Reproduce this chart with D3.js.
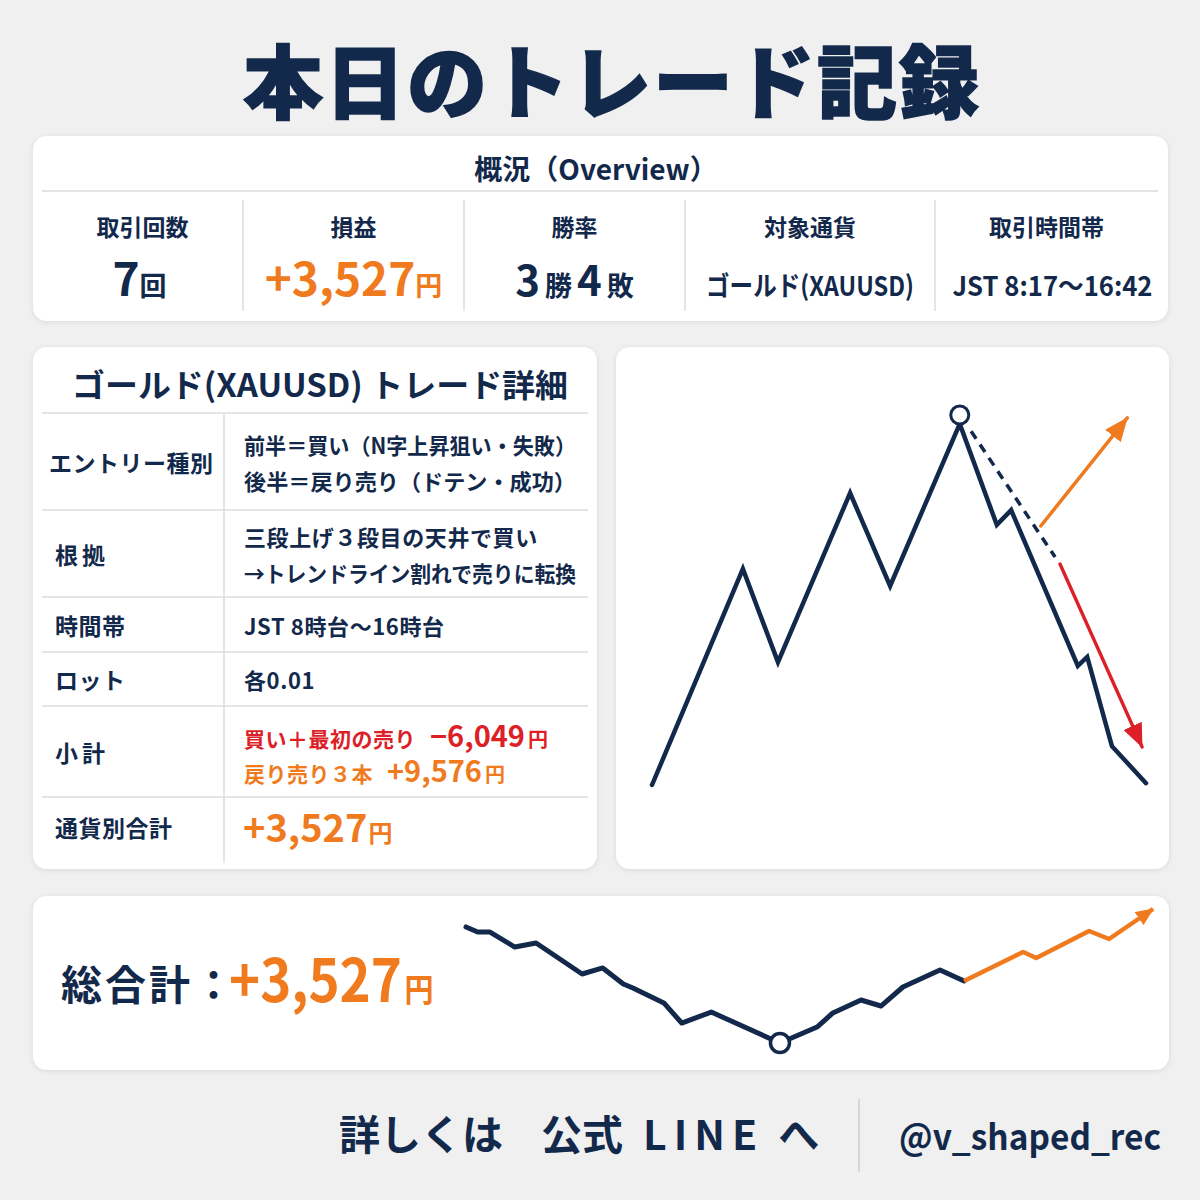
<!DOCTYPE html>
<html>
<head>
<meta charset="utf-8">
<script src="https://cdn.jsdelivr.net/npm/d3@7"></script>
<style>
  body { margin: 0; background: #f0f0f1; }
  svg { display: block; font-family: "Noto Sans CJK JP", "Noto Sans", sans-serif; }
</style>
</head>
<body>
<div id="chart"></div>
<script>
// ---- data ----
var titleText = "本日のトレード記録";
var overviewTitle = "概況（Overview）";
var overviewLabels = ["取引回数", "損益", "勝率", "対象通貨", "取引時間帯"];
// each value: [text, kind] kind = num | unit | plain
var overviewValues = [
  [["7", "num"], ["回", "unit"]],
  [["+3,527", "num"], ["円", "unit"]],
  [["3", "num"], ["勝", "unit"], ["4", "num"], ["敗", "unit"]],
  [["ゴールド(XAUUSD)", "plain"]],
  [["JST 8:17〜16:42", "plain"]]
];
var profitIndex = 1;

var detailTitle = "ゴールド(XAUUSD) トレード詳細";
var detailLabels = ["エントリー種別", "根拠", "時間帯", "ロット", "小計", "通貨別合計"];
var detailValues = [
  ["前半＝買い（N字上昇狙い・失敗）", "後半＝戻り売り（ドテン・成功）"],
  ["三段上げ３段目の天井で買い", "→トレンドライン割れで売りに転換"],
  ["JST 8時台〜16時台"],
  ["各0.01"]
];
var subtotalLines = [
  { label: "買い＋最初の売り", amount: "−6,049", type: "loss" },
  { label: "戻り売り３本", amount: "+9,576", type: "gain" }
];
var currencyTotal = "+3,527";
var grandLabel = "総合計：";
var grandTotal = "+3,527";
var yenUnit = "円";

// right chart: price path (x 0-100, y 0-100)
var pricePath = [
  { x: 0, y: 0 }, { x: 18.4, y: 58.4 }, { x: 25.5, y: 33.2 }, { x: 40.1, y: 78.9 },
  { x: 48.2, y: 53.8 }, { x: 62.3, y: 97.6 }, { x: 69.8, y: 70.3 }, { x: 72.7, y: 74.3 },
  { x: 86.2, y: 32.2 }, { x: 88.1, y: 34.6 }, { x: 93.1, y: 10.5 }, { x: 100, y: 0.5 }
];
var peakMarker = { x: 62.3, y: 100 };
var trendLine = [{ x: 64.6, y: 95.6 }, { x: 81.6, y: 61.6 }];
var sellArrow = [{ x: 82.6, y: 59.7 }, { x: 99.2, y: 10.3 }];
var buyArrow = [{ x: 78.7, y: 70 }, { x: 96.2, y: 99.2 }];

// bottom chart: equity curve (x 0-100, y 0-100)
var equityDown = [
  { x: 0, y: 86.6 }, { x: 1.7, y: 82.8 }, { x: 3.5, y: 82.8 }, { x: 7.1, y: 71.6 },
  { x: 10.2, y: 74.6 }, { x: 16.9, y: 51.5 }, { x: 19.9, y: 56.0 }, { x: 22.9, y: 44.0 },
  { x: 24.3, y: 41.0 }, { x: 28.8, y: 29.9 }, { x: 31.4, y: 14.9 }, { x: 35.7, y: 23.1 },
  { x: 45.7, y: 0 }, { x: 51.1, y: 11.9 }, { x: 53.4, y: 22.4 }, { x: 57.5, y: 32.1 },
  { x: 60.4, y: 27.6 }, { x: 63.6, y: 41.8 }, { x: 69.0, y: 54.5 }, { x: 72.5, y: 46.3 }
];
var equityUp = [
  { x: 72.5, y: 46.3 }, { x: 81.1, y: 67.9 }, { x: 83.0, y: 63.4 }, { x: 90.7, y: 83.6 },
  { x: 93.6, y: 77.6 }, { x: 100, y: 100 }
];
var equityLow = { x: 45.7, y: 0 };

var footerLeft = ["詳しくは", "公式", "LINE", "へ"];
var footerHandle = "@v_shaped_rec";

// ---- style ----
var navy = "#13294b";
var orange = "#f07a1e";
var red = "#dd1f27";
var rule = "#dcdcdf";

var svg = d3.select("#chart").append("svg")
  .attr("width", 1200)
  .attr("height", 1200);

var defs = svg.append("defs");
var shadow = defs.append("filter").attr("id", "shadow")
  .attr("x", "-5%").attr("y", "-5%").attr("width", "110%").attr("height", "115%");
shadow.append("feDropShadow")
  .attr("dx", 0).attr("dy", 1).attr("stdDeviation", 2.5)
  .attr("flood-color", "#000").attr("flood-opacity", 0.1);

function marker(id, color, len, wid) {
  defs.append("marker")
    .attr("id", id)
    .attr("viewBox", `0 0 ${len} ${wid}`)
    .attr("refX", len - 1).attr("refY", wid / 2)
    .attr("markerWidth", len).attr("markerHeight", wid)
    .attr("markerUnits", "userSpaceOnUse")
    .attr("orient", "auto")
    .append("path")
    .attr("d", `M0,0 L${len},${wid / 2} L0,${wid} Z`)
    .attr("fill", color);
}
marker("headOrange", orange, 24, 20);
marker("headRed", red, 24, 20);
marker("headSmall", orange, 18, 16);

svg.append("rect").attr("width", 1200).attr("height", 1200).attr("fill", "#f0f0f1");

function card(x, y, w, h) {
  svg.append("rect")
    .attr("x", x).attr("y", y).attr("width", w).attr("height", h)
    .attr("rx", 14).attr("fill", "#fff")
    .attr("filter", "url(#shadow)");
}

// ---- title ----
svg.append("text")
  .attr("x", 612).attr("y", 77)
  .attr("text-anchor", "middle")
  .attr("dominant-baseline", "central")
  .attr("font-size", 80)
  .attr("font-weight", 900)
  .attr("letter-spacing", 2)
  .attr("fill", navy)
  .attr("stroke", navy).attr("stroke-width", 1.5)
  .text(titleText);

// ---- overview card ----
card(33, 136, 1135, 185);
svg.append("text")
  .attr("x", 596).attr("y", 168)
  .attr("text-anchor", "middle").attr("dominant-baseline", "central")
  .attr("font-size", 28).attr("font-weight", 700).attr("fill", navy)
  .text(overviewTitle);
svg.append("line")
  .attr("x1", 42).attr("x2", 1158).attr("y1", 191).attr("y2", 191)
  .attr("stroke", rule).attr("stroke-width", 1.5);

var colEdges = [42, 243, 464, 685, 935, 1158];
colEdges.slice(1, -1).forEach(function(x) {
  svg.append("line")
    .attr("x1", x).attr("x2", x).attr("y1", 200).attr("y2", 311)
    .attr("stroke", rule).attr("stroke-width", 1.5);
});

var colCenter = overviewLabels.map(function(d, i) {
  return (colEdges[i] + colEdges[i + 1]) / 2;
});

svg.selectAll(".ovLabel").data(overviewLabels).enter()
  .append("text")
  .attr("x", function(d, i) { return colCenter[i]; })
  .attr("y", 226)
  .attr("text-anchor", "middle").attr("dominant-baseline", "central")
  .attr("font-size", 23).attr("font-weight", 700).attr("fill", navy)
  .text(function(d) { return d; });

overviewValues.forEach(function(parts, i) {
  var t = svg.append("text")
    .attr("x", colCenter[i] + (i === 4 ? 6 : 0) + (i === 0 ? -3 : 0))
    .attr("y", 296)
    .attr("text-anchor", "middle")
    .attr("font-weight", 700)
    .attr("fill", i === profitIndex ? orange : navy);
  var big = i === 2 ? 42 : 46;
  parts.forEach(function(p, k) {
    t.append("tspan")
      .attr("font-size", p[1] === "num" ? big : 27)
      .attr("dx", i === 2 && k > 0 ? 5 : 0)
      .text(p[0]);
  });
  if (i === 3) t.attr("textLength", 208).attr("lengthAdjust", "spacingAndGlyphs");
  if (i === 4) t.attr("textLength", 200).attr("lengthAdjust", "spacingAndGlyphs");
});

// ---- detail table card ----
card(33, 347, 564, 522);
svg.append("text")
  .attr("x", 72).attr("y", 383)
  .attr("dominant-baseline", "central")
  .attr("font-size", 32).attr("font-weight", 700).attr("fill", navy)
  .attr("textLength", 496).attr("lengthAdjust", "spacingAndGlyphs")
  .text(detailTitle);

var rowEdges = [413, 510, 597, 652, 706, 797, 863];
rowEdges.slice(0, -1).forEach(function(y) {
  svg.append("line")
    .attr("x1", 42).attr("x2", 588).attr("y1", y).attr("y2", y)
    .attr("stroke", rule).attr("stroke-width", 1.5);
});
svg.append("line")
  .attr("x1", 224).attr("x2", 224).attr("y1", 413).attr("y2", 863)
  .attr("stroke", rule).attr("stroke-width", 1.5);

var rowMid = detailLabels.map(function(d, i) {
  return (rowEdges[i] + rowEdges[i + 1]) / 2 + (i === 5 ? -3 : 0);
});

svg.selectAll(".dtLabel").data(detailLabels).enter()
  .append("text")
  .attr("x", function(d, i) { return i === 0 ? 49 : 55; })
  .attr("y", function(d, i) { return rowMid[i]; })
  .attr("dominant-baseline", "central")
  .attr("font-size", 23).attr("font-weight", 700).attr("fill", navy)
  .attr("letter-spacing", function(d) { return d.length <= 2 ? 4 : 0.5; })
  .text(function(d) { return d; });

var maxValueWidth = 332;
detailValues.forEach(function(lines, i) {
  var step = 36;
  var y0 = rowMid[i] - (lines.length - 1) * step / 2;
  lines.forEach(function(line, j) {
    var t = svg.append("text")
      .attr("x", 244).attr("y", y0 + j * step)
      .attr("dominant-baseline", "central")
      .attr("font-size", 22).attr("font-weight", 700).attr("fill", navy)
      .attr("letter-spacing", 0.6)
      .text(line);
    if (t.node().getComputedTextLength() > maxValueWidth) {
      t.attr("letter-spacing", 0)
        .attr("textLength", maxValueWidth).attr("lengthAdjust", "spacingAndGlyphs");
    }
  });
});

var subBase = [747, 782];
subtotalLines.forEach(function(s, j) {
  var t = svg.append("text")
    .attr("x", 244).attr("y", subBase[j])
    .attr("font-weight", 700)
    .attr("fill", s.type === "loss" ? red : orange);
  t.append("tspan").attr("font-size", 21).attr("letter-spacing", 0.5).text(s.label);
  t.append("tspan").attr("font-size", 29).attr("dx", 14).text(s.amount);
  t.append("tspan").attr("font-size", 20).attr("dx", 3).text(yenUnit);
});

var tot = svg.append("text")
  .attr("x", 243).attr("y", 842)
  .attr("font-weight", 700).attr("fill", orange);
tot.append("tspan").attr("font-size", 38).text(currencyTotal);
tot.append("tspan").attr("font-size", 24).attr("dx", 1).text(yenUnit);

// ---- price path card ----
card(616, 347, 553, 522);
var px = d3.scaleLinear().domain([0, 100]).range([652, 1146]);
var py = d3.scaleLinear().domain([0, 100]).range([785, 415]);
var priceLine = d3.line().x(function(d) { return px(d.x); }).y(function(d) { return py(d.y); });

svg.append("path")
  .attr("d", priceLine(pricePath))
  .attr("fill", "none").attr("stroke", navy).attr("stroke-width", 4.5)
  .attr("stroke-linecap", "round").attr("stroke-linejoin", "miter");

svg.append("path")
  .attr("d", priceLine(trendLine))
  .attr("fill", "none").attr("stroke", navy).attr("stroke-width", 3.5)
  .attr("stroke-dasharray", "9 7");

svg.append("path")
  .attr("d", priceLine(sellArrow))
  .attr("fill", "none").attr("stroke", red).attr("stroke-width", 3.5)
  .attr("stroke-linecap", "round")
  .attr("marker-end", "url(#headRed)");

svg.append("path")
  .attr("d", priceLine(buyArrow))
  .attr("fill", "none").attr("stroke", orange).attr("stroke-width", 3.5)
  .attr("stroke-linecap", "round")
  .attr("marker-end", "url(#headOrange)");

svg.append("circle")
  .attr("cx", px(peakMarker.x)).attr("cy", py(peakMarker.y)).attr("r", 9)
  .attr("fill", "#fff").attr("stroke", navy).attr("stroke-width", 3);

// ---- grand total card ----
card(33, 896, 1136, 174);
svg.append("text")
  .attr("x", 61).attr("y", 982)
  .attr("dominant-baseline", "central")
  .attr("font-size", 41).attr("font-weight", 700).attr("fill", navy)
  .attr("letter-spacing", 3)
  .text(grandLabel);

// condensed digits, as in the source
var gt = svg.append("text")
  .attr("transform", "translate(229,1002) scale(0.88,1)")
  .attr("font-weight", 700).attr("fill", orange);
gt.append("tspan").attr("font-size", 60).text(grandTotal);
gt.append("tspan").attr("font-size", 33).attr("dx", 3).text(yenUnit);

var ex = d3.scaleLinear().domain([0, 100]).range([466, 1153]);
var ey = d3.scaleLinear().domain([0, 100]).range([1043, 909]);
var eqLine = d3.line().x(function(d) { return ex(d.x); }).y(function(d) { return ey(d.y); });

svg.append("path")
  .attr("d", eqLine(equityDown))
  .attr("fill", "none").attr("stroke", navy).attr("stroke-width", 5)
  .attr("stroke-linecap", "round").attr("stroke-linejoin", "round");
svg.append("path")
  .attr("d", eqLine(equityUp))
  .attr("fill", "none").attr("stroke", orange).attr("stroke-width", 4.5)
  .attr("stroke-linejoin", "round")
  .attr("marker-end", "url(#headSmall)");
svg.append("circle")
  .attr("cx", ex(equityLow.x)).attr("cy", ey(equityLow.y)).attr("r", 9.5)
  .attr("fill", "#fff").attr("stroke", navy).attr("stroke-width", 3.5);

// ---- footer ----
var ft = svg.append("text")
  .attr("x", 339).attr("y", 1132)
  .attr("dominant-baseline", "central")
  .attr("font-size", 41).attr("font-weight", 700).attr("fill", navy);
ft.append("tspan").text(footerLeft[0]);
ft.append("tspan").attr("dx", 38).text(footerLeft[1]);
ft.append("tspan").attr("dx", 20).attr("letter-spacing", 7).text(footerLeft[2]);
ft.append("tspan").attr("dx", 14).text(footerLeft[3]);

svg.append("line")
  .attr("x1", 859).attr("x2", 859).attr("y1", 1099).attr("y2", 1172)
  .attr("stroke", "#cfcfd3").attr("stroke-width", 1.5);

svg.append("text")
  .attr("x", 899).attr("y", 1134)
  .attr("dominant-baseline", "central")
  .attr("font-size", 36).attr("font-weight", 700).attr("fill", navy)
  .attr("textLength", 262).attr("lengthAdjust", "spacingAndGlyphs")
  .text(footerHandle);
</script>
</body>
</html>
